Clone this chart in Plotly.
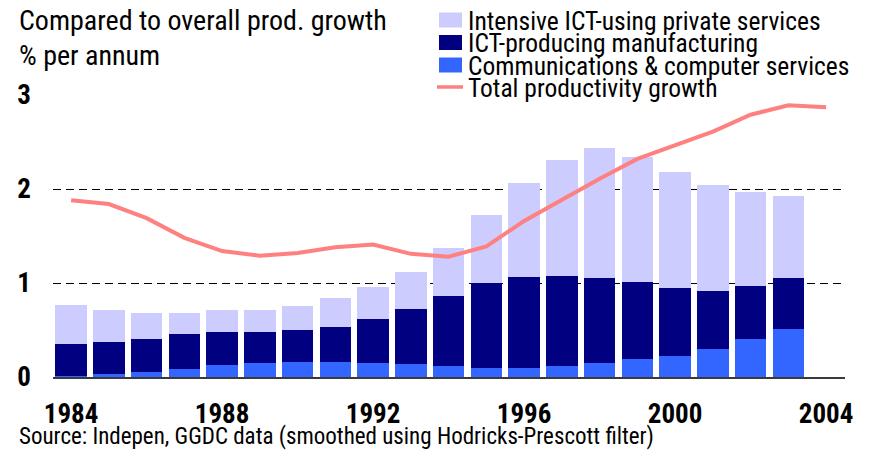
import plotly.graph_objects as go

# ---------------- data ----------------
years = list(range(1984, 2004))
line_years = list(range(1984, 2005))
comm_services = [0.01, 0.03, 0.05, 0.09, 0.13, 0.15, 0.16, 0.16, 0.15, 0.14,
                 0.12, 0.10, 0.10, 0.12, 0.15, 0.19, 0.22, 0.30, 0.40, 0.51]
ict_manufacturing = [0.34, 0.34, 0.35, 0.37, 0.35, 0.33, 0.34, 0.37, 0.47, 0.58,
                     0.74, 0.90, 0.96, 0.95, 0.90, 0.82, 0.73, 0.62, 0.57, 0.54]
ict_using_services = [0.42, 0.34, 0.28, 0.22, 0.23, 0.23, 0.26, 0.31, 0.34, 0.40,
                      0.51, 0.72, 1.00, 1.24, 1.39, 1.33, 1.23, 1.12, 1.00, 0.88]
total_growth = [1.88, 1.84, 1.69, 1.48, 1.34, 1.29, 1.32, 1.38, 1.41, 1.31, 1.28,
                1.39, 1.66, 1.89, 2.11, 2.32, 2.47, 2.61, 2.79, 2.89, 2.87]
x_ticks = [1984, 1988, 1992, 1996, 2000, 2004]
x_tick_labels = ["1984", "1988", "1992", "1996", "2000", "2004"]
y_ticks = [0, 1, 2, 3]
y_tick_labels = ["0", "1", "2", "3"]
series_names = ["Intensive ICT-using private services", "ICT-producing manufacturing",
                "Communications & computer services", "Total productivity growth"]
title_lines = ["Compared to overall prod. growth", "% per annum"]
source_text = "Source: Indepen, GGDC data (smoothed using Hodricks-Prescott filter)"

# ---------------- style ----------------
W, H = 869, 457
ML, MR, MT, MB = 53, 24, 95, 80
COND = "Roboto Condensed, Liberation Sans Narrow, Arial Narrow, sans-serif"
C_USING, C_MANU, C_COMM, C_LINE = "#CCCCFF", "#000080", "#3366FF", "#FF8080"

pw, ph = W - ML - MR, H - MT - MB


def px_x(px):
    return (px - ML) / pw


def px_y(py):
    return 1 - (py - MT) / ph


fig = go.Figure()
fig.add_trace(go.Bar(x=years, y=comm_services, name=series_names[2],
                     marker=dict(color=C_COMM, line=dict(width=0))))
fig.add_trace(go.Bar(x=years, y=ict_manufacturing, name=series_names[1],
                     marker=dict(color=C_MANU, line=dict(width=0))))
fig.add_trace(go.Bar(x=years, y=ict_using_services, name=series_names[0],
                     marker=dict(color=C_USING, line=dict(width=0))))
fig.add_trace(go.Scatter(x=line_years, y=total_growth, mode="lines", name=series_names[3],
                         line=dict(color=C_LINE, width=4)))

annotations = []
shapes = []

# title lines
for txt, cy in zip(title_lines, [20, 55]):
    annotations.append(dict(text=txt, x=px_x(17), y=px_y(cy), xref="paper", yref="paper",
                            xanchor="left", yanchor="middle", showarrow=False,
                            font=dict(family=COND, size=28, color="black")))

# legend (drawn manually to match the tight row spacing)
leg_rows = [20, 42.5, 65, 87]
leg_colors = [C_USING, C_MANU, C_COMM, C_LINE]
for i, (name, cy, col) in enumerate(zip(series_names, leg_rows, leg_colors)):
    if i < 3:
        shapes.append(dict(type="rect", xref="paper", yref="paper",
                           x0=px_x(439), x1=px_x(462), y0=px_y(cy - 7.5), y1=px_y(cy + 7.5),
                           fillcolor=col, line=dict(width=0)))
    else:
        shapes.append(dict(type="line", xref="paper", yref="paper",
                           x0=px_x(437), x1=px_x(463), y0=px_y(cy), y1=px_y(cy),
                           line=dict(color=col, width=3.5)))
    annotations.append(dict(text=name, x=px_x(466), y=px_y(cy + 1), xref="paper", yref="paper",
                            xanchor="left", yanchor="middle", showarrow=False,
                            font=dict(family=COND, size=25.5, color="black")))

# source
annotations.append(dict(text=source_text, x=px_x(17), y=px_y(436), xref="paper", yref="paper",
                        xanchor="left", yanchor="middle", showarrow=False,
                        font=dict(family=COND, size=23, color="black")))

fig.update_layout(
    width=W, height=H,
    margin=dict(l=ML, r=MR, t=MT, b=MB, autoexpand=False),
    barmode="stack", bargap=0.16,
    paper_bgcolor="white", plot_bgcolor="white",
    font=dict(family=COND, size=22, color="black"),
    showlegend=False,
    hovermode=False,
    xaxis=dict(range=[1983.52, 2004.5], tickvals=x_ticks, ticktext=x_tick_labels,
               showgrid=False, zeroline=False, showline=True, linecolor="#3a3a3a",
               linewidth=2, ticks="", ticklabelstandoff=12,
               tickfont=dict(family=COND, size=27, color="black", weight="bold")),
    yaxis=dict(range=[0, 3], tickvals=y_ticks, ticktext=y_tick_labels,
               showgrid=True, gridcolor="black",
               griddash="8px,5px", gridwidth=1, zeroline=False, showline=False,
               ticks="", ticklabelstandoff=21,
               tickfont=dict(family=COND, size=27, color="black", weight="bold")),
    annotations=annotations,
    shapes=shapes,
)

fig.write_html("out.html", config={"displayModeBar": False},
               post_script="document.body.style.margin='0';")
